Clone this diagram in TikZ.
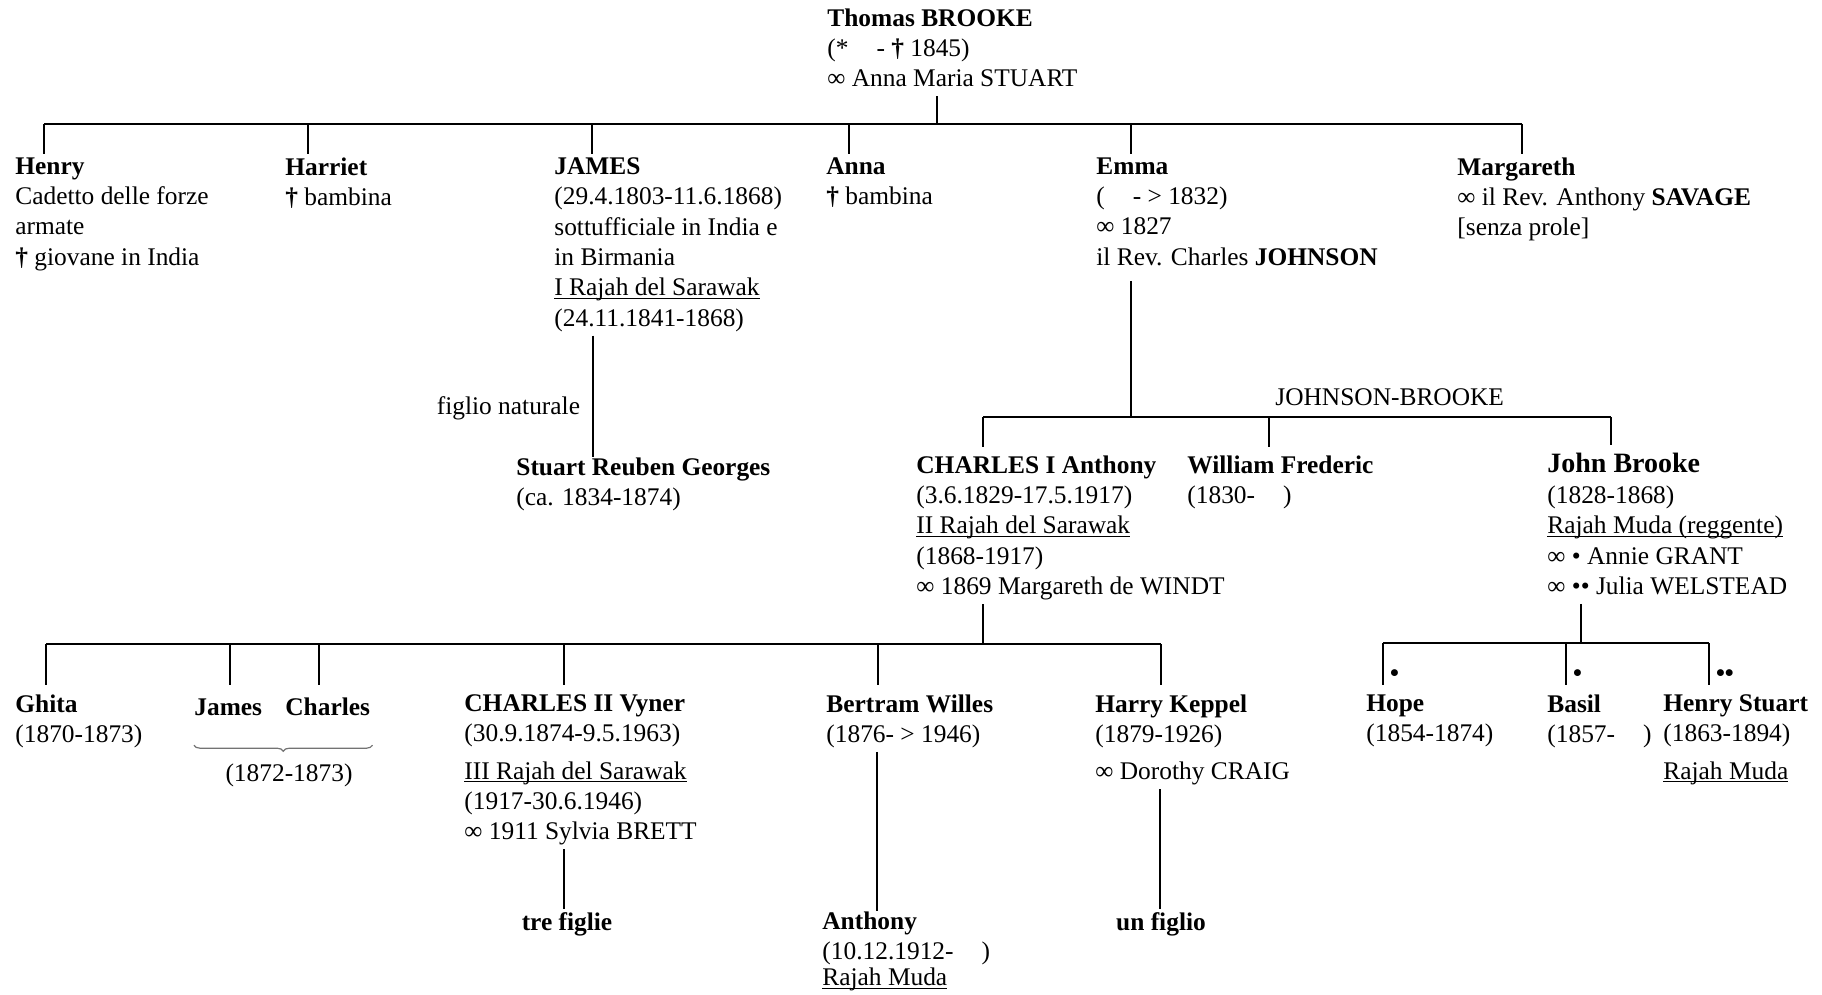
\documentclass[tikz,border=0pt]{standalone}
\usepackage{fontspec}
\setmainfont{Liberation Serif}
\usetikzlibrary{decorations.pathreplacing}
\newcommand{\gtext}{\fontsize{12.7}{15.2}\selectfont}
\newcommand{\dg}{\textbf{†}}
\newcommand{\mar}{∞}
\newcommand{\ul}[1]{{\setbox0\hbox{#1}\rlap{\rule[-1.6pt]{\wd0}{0.55pt}}\box0}}
\tikzset{
  person/.style={anchor=north west,inner sep=0pt,align=left,font=\gtext,execute at begin node=\strut},
  tree/.style={line width=1pt},
  brc/.style={decorate,decoration={brace,amplitude=3pt},black!55,line width=0.6pt},
  wife/.style={anchor=base west,inner sep=0pt,font=\gtext,xshift=3pt,yshift=6.5pt}
}

\begin{document}
\begin{tikzpicture}[x=0.5pt,y=-0.5pt]
\useasboundingbox (0,0) rectangle (1822,995);
\node[person] (thomas) at (827,8) {\textbf{Thomas BROOKE}\\(*\hspace{1.1em}- \dg{} 1845)\\\mar{} Anna Maria STUART};
\node[person] (henry) at (15,157) {\textbf{Henry}\\Cadetto delle forze\\armate\\\dg{} giovane in India};
\node[person] (harriet) at (285,157) {\textbf{Harriet}\\\dg{} bambina};
\node[person] (james) at (554,157) {\textbf{JAMES}\\(29.4.1803-11.6.1868)\\sottufficiale in India e\\in Birmania\\\ul{I Rajah del Sarawak}\\(24.11.1841-1868)};
\node[person] (anna) at (826,157) {\textbf{Anna}\\\dg{} bambina};
\node[person] (emma) at (1096,157) {\textbf{Emma}\\(\hspace{1.1em}- > 1832)\\\mar{} 1827\\il Rev. Charles \textbf{JOHNSON}};
\node[person] (margareth) at (1457,157) {\textbf{Margareth}\\\mar{} il Rev. Anthony \textbf{SAVAGE}\\{[senza prole]}};
\coordinate (bus0) at (937,124);
\draw[tree] (thomas.south -| bus0) -- (bus0);
\draw[tree] (bus0 -| 44,0) -- (bus0 -| 1522,0);
\foreach \who/\x in {henry/44,harriet/308,james/592,anna/849,emma/1131,margareth/1522}
  \draw[tree,shorten >=1.5pt] (bus0 -| \x,0) -- (\x,0 |- \who.north);
\node[person] (stuart) at (516,457) {\textbf{Stuart Reuben Georges}\\(ca. 1834-1874)};
\draw[tree] (james.south -| 593,0) -- node[pos=0.6,left=6pt,inner sep=0pt,font=\gtext] (nat) {figlio naturale} (593,0 |- stuart.north);
\node[person] (charles) at (916,455) {\textbf{CHARLES I Anthony}\\(3.6.1829-17.5.1917)\\\ul{II Rajah del Sarawak}\\(1868-1917)\\\mar{} 1869 Margareth de WINDT};
\node[person] (william) at (1187,455) {\textbf{William Frederic}\\(1830-\hspace{1.1em})};
\node[person] (johnb) at (1547,453) {{\fontsize{14}{15}\selectfont\bfseries John Brooke}\\(1828-1868)\\\ul{Rajah Muda (reggente)}\\\mar{} • Annie GRANT\\\mar{} •• Julia WELSTEAD};
\coordinate (bus1) at (1131,417);
\draw[tree,shorten <=3pt] (emma.south -| bus1) -- (bus1);
\node[anchor=base west,inner sep=0pt,font=\gtext] (jb) at (1275,405) {JOHNSON-BROOKE};
\draw[tree] (bus1 -| 983,0) -- (bus1 -| 1611,0);
\foreach \who/\x in {charles/983,william/1269,johnb/1611}
  \draw[tree,shorten >=4pt] (bus1 -| \x,0) -- (\x,0 |- \who.north);
\node[person] (ghita) at (15,694) {\textbf{Ghita}\\(1870-1873)};
\node[person] (jamesb) at (194,694) {\textbf{James}};
\node[person] (charlesb) at (285,694) {\textbf{Charles}};
\node[person] (vyner) at (464,694) {\textbf{CHARLES II Vyner}\\(30.9.1874-9.5.1963)\\[3.5pt]\ul{III Rajah del Sarawak}\\(1917-30.6.1946)\\\mar{} 1911 Sylvia BRETT};
\node[person] (bertram) at (826,694) {\textbf{Bertram Willes}\\(1876- > 1946)};
\node[person] (harry) at (1095,694) {\textbf{Harry Keppel}\\(1879-1926)\\[3.5pt]\mar{} Dorothy CRAIG};
\coordinate (bus2) at (983,644);
\draw[tree] (charles.south -| bus2) -- (bus2);
\draw[tree] (bus2 -| 46,0) -- (bus2 -| 1161,0);
\foreach \who/\x in {ghita/46,jamesb/230,charlesb/319,vyner/564,bertram/878,harry/1161}
  \draw[tree,shorten >=4.5pt] (bus2 -| \x,0) -- (\x,0 |- \who.north);
\draw[brc] ([xshift=1pt,yshift=-10pt]charlesb.south east) -- ([yshift=-10pt]jamesb.south west);
\node[person,anchor=north] (jcdates) at (289,760) {(1872-1873)};
\node[person,anchor=north] (tre) at (567,909) {\textbf{tre figlie}};
\draw[tree] (vyner.south -| 564,0) -- (564,0 |- tre.north);
\node[person] (anthony) at (822,911) {\textbf{Anthony}\\(10.12.1912-\hspace{1.1em})\\[-2pt]\ul{Rajah Muda}};
\draw[tree] (bertram.south -| 877,0) -- (877,0 |- anthony.north);
\node[person,anchor=north] (figlio) at (1161,909) {\textbf{un figlio}};
\draw[tree] (harry.south -| 1160,0) -- (1160,0 |- figlio.north);
\node[person] (hope) at (1366,694) {\textbf{Hope}\\(1854-1874)};
\node[person] (basil) at (1547,694) {\textbf{Basil}\\(1857-\hspace{1.1em})};
\node[person] (henrys) at (1663,694) {\textbf{Henry Stuart}\\(1863-1894)\\[3.5pt]\ul{Rajah Muda}};
\coordinate (bus3) at (1581,643);
\draw[tree] (johnb.south -| bus3) -- (bus3);
\draw[tree] (bus3 -| 1383,0) -- (bus3 -| 1709,0);
\foreach \who/\x/\m in {hope/1383/•,basil/1566/•,henrys/1709/••}
  \draw[tree,shorten >=4.5pt] (bus3 -| \x,0) -- (\x,0 |- \who.north) node[wife] {\textbf{\m}};
\end{tikzpicture}
\end{document}
